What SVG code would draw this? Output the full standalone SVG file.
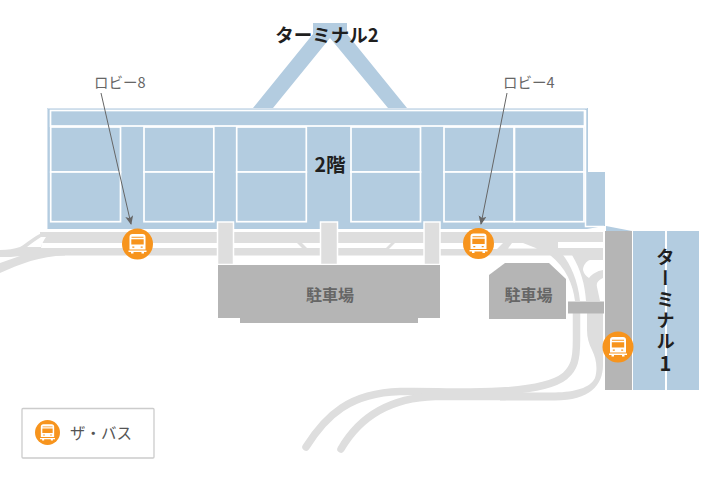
<svg xmlns="http://www.w3.org/2000/svg" width="720" height="480" viewBox="0 0 720 480">
<style>
text{font-family:"Noto Sans CJK JP","Noto Sans",sans-serif}
.b{fill:#b3cce0}
.room{fill:#b3cce0;stroke:#fff;stroke-width:1.7}
.g{fill:#b5b5b5}
.r{fill:#dedede}
.rs{fill:none;stroke:#dedede;stroke-linecap:round;stroke-width:7.500}
.w{fill:#fff}
.br{fill:#dedede;stroke:#fff;stroke-width:1.5}
.t{font-weight:700;fill:#1f1f1f}
.p{font-weight:700;fill:#666;font-size:16px}
.l{fill:#666;font-size:14.500px}
.o{fill:#f7941d}
.lead{stroke:#666;stroke-width:1;fill:none;marker-end:url(#a)}
</style>
<defs>
<marker id="a" markerUnits="userSpaceOnUse" markerWidth="10" markerHeight="10" refX="8" refY="4" orient="auto"><path d="M0 0L9 4L0 8L2 4Z" fill="#666"/></marker>
<symbol id="bus" viewBox="-15 -15 30 30" overflow="visible">
<path fill="#fff" d="M-8-7Q-8-10-5-10H5Q8-10 8-7V5.500H-8ZM-9 6.500H9V8H6.500V9.500H4V8H-4V9.500H-6.500V8H-9Z"/>
<path fill="#f7941d" d="M-6-7.300H6V-6.200H-6ZM-6.200-4.800H6.200V0.500H-6.200ZM-5.200 2.500H-3.200V3.700H-5.200ZM3.200 2.500H5.200V3.700H3.200Z"/>
</symbol>
</defs>
<g id="roads">
<rect class="r" x="40" y="232" width="563" height="23.500"/>
<path class="r" d="M47 232C36 233 28 243 20 247C14 249 8 250 0 250V257C8 257 14 257 20 256L0 263V273C20 264 40 256 65 255.500V240H47Z"/>
<path class="w" d="M27 247C31 244 36 240 41 237H46C44 240 42 243 41 247Z"/>
<path class="w" d="M42 243H297L302 248H41Z"/>
<path class="w" d="M302 243H391L386 248H307Z"/>
<path class="w" d="M395 243H503L497 249H389Z"/>
<path class="w" d="M512 243H523L537 248.500H508Z"/>
<path class="w" d="M558 242H603V248H558Z"/>
<path class="r" d="M550 255H563C570 264 578 280 580 301H575C573 284 566 268 550 255Z"/>
<path class="r" fill-rule="evenodd" d="M572 255H603V278C599 280 596 282 597 287L600 301H586C585 285 581 270 572 255ZM603 260H590C586 261 583 266 583 270C584 274 586 276 589 278C592 274 597 271 603 270Z"/>
<path class="rs" stroke-linecap="butt" d="M576.500 312V340C576.500 360 574 368 565 376C550 388 510 392 470 392C440 392 425 391 400 391.500C350 393 326 415 306 447"/>
<path class="r" d="M587 312H603V365C603 385 590 400.500 555 400.500H500V392.500H555C575 392 590 388 595 378C598 368 596 358 592 350C589 344 587 338 587 330Z"/>
<path class="rs" d="M505 396.500H435C382 398 356 423 341 449"/>
</g>
<g id="terminal2">
<path class="b" d="M313 23H347V34L407 108H388L330 38L273 108H253L313 34Z"/>
<path class="b" d="M47 108H588V172H605V226H604L587 229H47Z"/>
<path class="b" d="M606 226L632 231H606Z"/>
<rect class="room" x="50.500" y="110.500" width="534" height="15.500"/>
<rect class="room" x="50.700" y="127" width="69.800" height="45"/><rect class="room" x="50.700" y="172" width="69.800" height="49.700"/>
<rect class="room" x="144" y="127" width="69.800" height="45"/><rect class="room" x="144" y="172" width="69.800" height="49.700"/>
<rect class="room" x="236.700" y="127" width="69.600" height="45"/><rect class="room" x="236.700" y="172" width="69.600" height="49.700"/>
<rect class="room" x="351" y="127" width="69.500" height="45"/><rect class="room" x="351" y="172" width="69.500" height="49.700"/>
<rect class="room" x="444" y="127" width="70" height="45"/><rect class="room" x="444" y="172" width="70" height="49.700"/>
<rect class="room" x="514.500" y="127" width="69.500" height="45"/><rect class="room" x="514.500" y="172" width="69.500" height="49.700"/>
<path d="M585.500 110V226.500H604" fill="none" stroke="#fff" stroke-width="1.500"/>
<path d="M587 108.500H47.500V229" fill="none" stroke="#d5e2ee" stroke-width="1"/>
<text class="t" x="327" y="42" font-size="18.500" text-anchor="middle">ターミナル2</text>
<text class="t" x="330" y="172" font-size="19.500" text-anchor="middle">2階</text>
</g>
<g id="bridges">
<rect class="br" x="217.500" y="222" width="16" height="42.500"/>
<rect class="br" x="320.500" y="222" width="17" height="42.500"/>
<rect class="br" x="424" y="222" width="16" height="42.500"/>
<rect class="g" x="568" y="301.500" width="36" height="12"/>
</g>
<g id="parking-1">
<path class="g" d="M218 265H440V318H418V323H240V318H218Z"/>
<text class="p" x="330" y="301" text-anchor="middle">駐車場</text>
</g>
<g id="parking-2">
<path class="g" d="M489 275L505 263H549L566 279V319H489Z"/>
<text class="p" x="528.500" y="301" text-anchor="middle">駐車場</text>
</g>
<g id="terminal1">
<rect class="g" x="605" y="231" width="27" height="159"/>
<rect class="b" x="633" y="231" width="32" height="159"/>
<rect class="b" x="667" y="231" width="32" height="159"/>
<text class="t" x="665.500" y="248" font-size="18.500" letter-spacing="2.500" style="writing-mode:vertical-rl">ターミナル</text>
<text class="t" x="665.500" y="371" font-size="20" text-anchor="middle">1</text>
</g>
<g id="connectors">
<path class="lead" d="M101 93L131 224"/>
<path class="lead" d="M507 93L481 224"/>
</g>
<g id="lobby-8"><text class="l" x="94" y="88">ロビー8</text></g>
<g id="lobby-4"><text class="l" x="503" y="88">ロビー4</text></g>
<g id="bus-1"><circle class="o" cx="137.500" cy="244" r="15.500"/><use href="#bus" x="122.500" y="229" width="30" height="30"/></g>
<g id="bus-2"><circle class="o" cx="478.500" cy="243.500" r="15.500"/><use href="#bus" x="463.500" y="228.500" width="30" height="30"/></g>
<g id="bus-3"><circle class="o" cx="618" cy="347" r="15.500"/><use href="#bus" x="603" y="332" width="30" height="30"/></g>
<g id="legend">
<rect x="22" y="408.500" width="132" height="49.500" rx="1" fill="#fff" stroke="#ccc" stroke-width="1.300"/>
<circle class="o" cx="47.500" cy="432.500" r="12.500"/>
<use href="#bus" x="35" y="420" width="25" height="25"/>
<text x="70" y="438.500" font-size="15.500" fill="#555">ザ・バス</text>
</g>
</svg>
